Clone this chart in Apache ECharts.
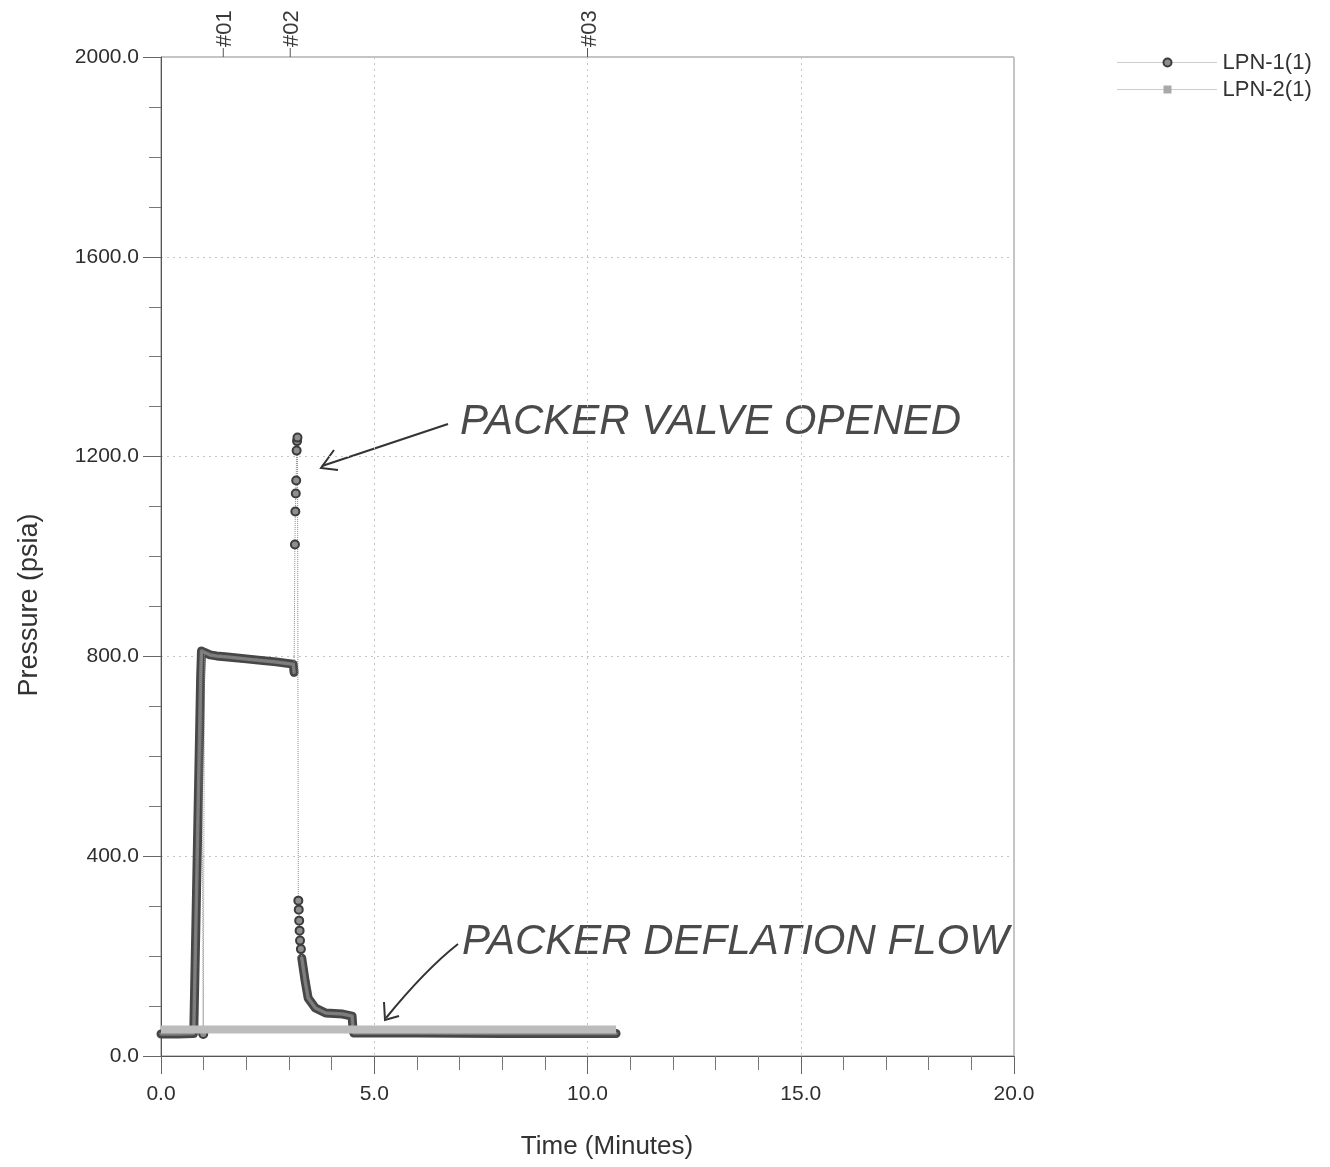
<!DOCTYPE html>
<html>
<head>
<meta charset="utf-8">
<script src="https://cdn.jsdelivr.net/npm/echarts@6/dist/echarts.min.js"></script>
<style>
html,body{margin:0;padding:0;background:#ffffff;}
#chart{width:1330px;height:1167px;}
</style>
</head>
<body>
<div id="chart"></div>
<script>
// ---------- axis ticks ----------
const xTicks = [0, 5, 10, 15, 20];
const yTicks = [0, 400, 800, 1200, 1600, 2000];

// ---------- LPN-1(1) (minutes, psia) ----------
// inflation: baseline then rise to peak
const lpn1InflateTime = [0.00, 0.40, 0.76, 0.77, 0.82, 0.86, 0.90, 0.93, 0.95];
const lpn1InflatePsia = [44, 44, 45, 55, 270, 450, 625, 760, 811];
// single low reading right after the peak
const lpn1GlitchTime = [0.99];
const lpn1GlitchPsia = [44];
// hold period
const lpn1HoldTime = [1.02, 1.15, 1.30, 1.56, 2.00, 2.34, 2.70, 3.05, 3.10, 3.12];
const lpn1HoldPsia = [808, 803, 801, 799, 795, 792, 789, 785, 784, 768];
// packer valve opened: discrete readings
const lpn1ValveTime = [3.14, 3.15, 3.16, 3.17, 3.18, 3.19, 3.20, 3.22, 3.23, 3.24, 3.25, 3.26, 3.28];
const lpn1ValvePsia = [1024, 1090, 1126, 1152, 1212, 1231, 1238, 311, 293, 271, 251, 231, 214];
// deflation flow / bleed-off
const lpn1BleedTime = [3.30, 3.38, 3.45, 3.62, 3.86, 4.26, 4.48, 4.50, 4.52, 6.00, 8.00, 10.67];
const lpn1BleedPsia = [196, 150, 116, 96, 86, 84, 80, 55, 46, 46, 45, 45];

// ---------- LPN-2(1) ----------
const lpn2Time = [0.00, 2.00, 4.00, 6.00, 8.00, 10.67];
const lpn2Psia = [53, 53, 53, 53, 53, 53];

// ---------- event markers ----------
const eventTimes = [1.46, 3.03, 10.0];
const eventLabels = ['#01', '#02', '#03'];

// ---------- build ----------
const FONT = '"Liberation Sans", Arial, Helvetica, sans-serif';
const pairs = (t, p) => t.map((v, i) => [v, p[i]]);
const yMax = yTicks[yTicks.length - 1];

// whole LPN-1 trace in time order; only the discrete readings get visible markers
const lpn1Phases = [
  { pts: pairs(lpn1InflateTime, lpn1InflatePsia), dense: true },
  { pts: pairs(lpn1GlitchTime, lpn1GlitchPsia), dense: false },
  { pts: pairs(lpn1HoldTime, lpn1HoldPsia), dense: true },
  { pts: pairs(lpn1ValveTime, lpn1ValvePsia), dense: false },
  { pts: pairs(lpn1BleedTime, lpn1BleedPsia), dense: true }
];
const lpn1All = [];
lpn1Phases.forEach(ph => ph.pts.forEach(p => lpn1All.push({ value: p, symbolSize: ph.dense ? 0 : 8 })));
const denseA = [].concat(lpn1Phases[0].pts, lpn1Phases[2].pts);
const denseB = lpn1Phases[4].pts;

function band(data, width, color, z) {
  return {
    name: 'LPN-1(1)', type: 'line', data: data, showSymbol: false, symbol: 'none',
    silent: true, z: z, animation: false,
    lineStyle: { width: width, color: color, cap: 'round', join: 'round' }
  };
}

const chart = echarts.init(document.getElementById('chart'), null, { renderer: 'canvas' });

const option = {
  backgroundColor: '#ffffff',
  animation: false,
  textStyle: { fontFamily: FONT },
  grid: { left: 161, right: 316, top: 57, bottom: 111, show: true, borderColor: '#8a8a8a', borderWidth: 1 },
  legend: {
    data: ['LPN-1(1)', 'LPN-2(1)'],
    orient: 'vertical', left: 1112, top: 46,
    itemWidth: 100, itemHeight: 10, itemGap: 4,
    selectedMode: false,
    textStyle: { fontSize: 22, color: '#333', fontFamily: FONT, lineHeight: 23 },
    lineStyle: { width: 1, color: '#9a9a9a', type: 'dotted' }
  },
  xAxis: {
    type: 'value', min: xTicks[0], max: xTicks[xTicks.length - 1], interval: xTicks[1] - xTicks[0],
    axisLine: { show: true, onZero: false, lineStyle: { color: '#555', width: 1 } },
    axisTick: { show: true, length: 18, lineStyle: { color: '#666' } },
    minorTick: { show: true, splitNumber: 5, length: 14, lineStyle: { color: '#777' } },
    axisLabel: { fontSize: 21, color: '#2e2e2e', margin: 28, fontFamily: FONT, formatter: v => v.toFixed(1) },
    splitLine: { show: true, lineStyle: { color: '#c4c4c4', type: [2, 4] } }
  },
  yAxis: {
    type: 'value', min: yTicks[0], max: yMax, interval: yTicks[1] - yTicks[0],
    axisLine: { show: true, onZero: false, lineStyle: { color: '#555', width: 1 } },
    axisTick: { show: true, length: 18, lineStyle: { color: '#666' } },
    minorTick: { show: true, splitNumber: 4, length: 12, lineStyle: { color: '#777' } },
    axisLabel: { fontSize: 21, color: '#2e2e2e', margin: 22, fontFamily: FONT, formatter: v => v.toFixed(1) },
    splitLine: { show: true, lineStyle: { color: '#c4c4c4', type: [2, 4] } }
  },
  series: [
    {
      name: 'LPN-1(1)', type: 'line', data: lpn1All, z: 4,
      symbol: 'circle', symbolSize: 8, showSymbol: true, showAllSymbol: true,
      lineStyle: { width: 1, color: '#8a8a8a', type: 'dotted' },
      itemStyle: { color: '#8e8e8e', borderColor: '#3c3c3c', borderWidth: 2 }
    },
    band(denseA, 9, '#474747', 2),
    band(denseA, 3.5, '#7a7a7a', 3),
    band(denseB, 9, '#474747', 2),
    band(denseB, 3.5, '#7a7a7a', 3),
    {
      name: 'LPN-2(1)', type: 'line', data: pairs(lpn2Time, lpn2Psia), z: 5,
      symbol: 'rect', symbolSize: 8, showSymbol: false,
      lineStyle: { width: 8, color: '#bcbcbc', cap: 'butt' },
      itemStyle: { color: '#a9a9a9' }
    },
    {
      name: 'events', type: 'custom', coordinateSystem: 'cartesian2d', clip: false, silent: true, z: 10,
      data: eventTimes.map((t, i) => [t, yMax, i]),
      encode: { x: 0, y: 1 },
      renderItem: function (params, api) {
        const p = api.coord([api.value(0), api.value(1)]);
        return {
          type: 'group',
          children: [
            { type: 'line', shape: { x1: p[0], y1: p[1], x2: p[0], y2: p[1] - 9 }, style: { stroke: '#555', lineWidth: 1 } },
            { type: 'text', x: p[0] + 2, y: p[1] - 10, rotation: Math.PI / 2,
              style: { text: eventLabels[api.value(2)], font: '22px ' + FONT, fill: '#3a3a3a', align: 'left', verticalAlign: 'middle' } }
          ]
        };
      }
    }
  ],
  graphic: [
    { type: 'text', x: 30, y: 605, rotation: Math.PI / 2,
      style: { text: 'Pressure (psia)', font: '27px ' + FONT, fill: '#333', align: 'center', verticalAlign: 'middle' } },
    { type: 'text', x: 607, y: 1147,
      style: { text: 'Time (Minutes)', font: '26px ' + FONT, fill: '#333', align: 'center', verticalAlign: 'middle' } },
    // handwritten annotations
    { type: 'text', x: 460, y: 422,
      style: { text: 'PACKER VALVE OPENED', font: 'italic 42px ' + FONT, fill: '#4a4a4a', align: 'left', verticalAlign: 'middle' } },
    { type: 'polyline', shape: { points: [[448, 424], [322, 466]] }, style: { stroke: '#333', lineWidth: 2, fill: null } },
    { type: 'polyline', shape: { points: [[334, 450], [321, 468], [338, 470]] }, style: { stroke: '#333', lineWidth: 2, fill: null } },
    { type: 'text', x: 462, y: 942,
      style: { text: 'PACKER DEFLATION FLOW', font: 'italic 42px ' + FONT, fill: '#4a4a4a', align: 'left', verticalAlign: 'middle' } },
    { type: 'bezierCurve', shape: { x1: 458, y1: 944, cpx1: 425, cpy1: 970, x2: 386, y2: 1018 }, style: { stroke: '#333', lineWidth: 2, fill: null } },
    { type: 'polyline', shape: { points: [[384, 1002], [385, 1020], [399, 1016]] }, style: { stroke: '#333', lineWidth: 2, fill: null } }
  ]
};

chart.setOption(option);
</script>
</body>
</html>
